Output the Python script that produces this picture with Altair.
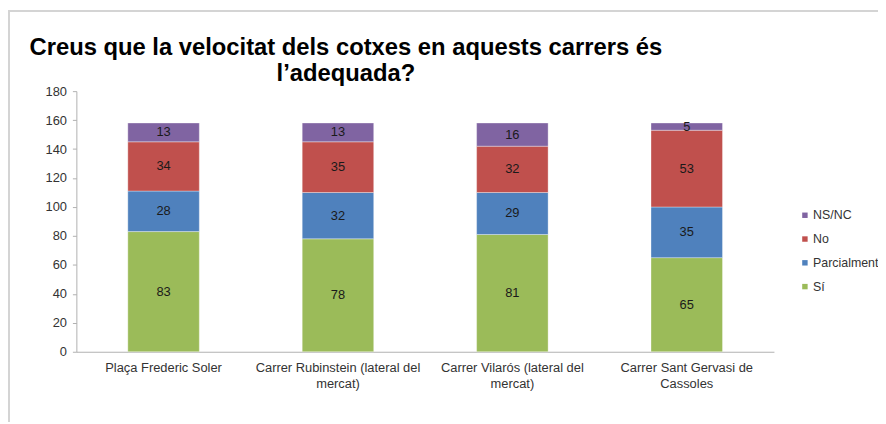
import altair as alt
import pandas as pd

# ---- data ----
categories = [
    "Plaça Frederic Soler",
    "Carrer Rubinstein (lateral del mercat)",
    "Carrer Vilarós (lateral del mercat)",
    "Carrer Sant Gervasi de Cassoles",
]
category_lines = [
    ["Plaça Frederic Soler"],
    ["Carrer Rubinstein (lateral del", "mercat)"],
    ["Carrer Vilarós (lateral del", "mercat)"],
    ["Carrer Sant Gervasi de", "Cassoles"],
]
responses = ["Sí", "Parcialment", "No", "NS/NC"]  # bottom -> top
si = [83, 78, 81, 65]
parcialment = [28, 32, 29, 35]
no = [34, 35, 32, 53]
nsnc = [13, 13, 16, 5]
colors = ["#9BBB59", "#4F81BD", "#C0504D", "#8064A2"]
y_ticks = list(range(0, 181, 20))
title_lines = ["Creus que la velocitat dels cotxes en aquests carrers és", "l\u2019adequada?"]

series = [si, parcialment, no, nsnc]
rows = []
for r, (resp, vals) in enumerate(zip(responses, series)):
    for c, v in zip(categories, vals):
        rows.append({"category": c, "response": resp, "rank": r, "value": v})
df = pd.DataFrame(rows)

# label expression for multi-line x labels
expr = "datum.label"
for cat, lines in reversed(list(zip(categories, category_lines))):
    arr = "[" + ",".join("'" + l + "'" for l in lines) + "]"
    expr = f"datum.label == '{cat}' ? {arr} : ({expr})"

FONT = "Liberation Sans, Arial, sans-serif"

base = alt.Chart(df).transform_stack(
    stack="value",
    groupby=["category"],
    as_=["y0", "y1"],
    sort=[alt.SortField("rank", order="ascending")],
).transform_calculate(mid="(datum.y0 + datum.y1) / 2")

y_scale = alt.Scale(domain=[0, 180], nice=False, zero=True)
x_scale = alt.Scale(paddingInner=0.59, paddingOuter=0.295)
x_axis = alt.Axis(labelExpr=expr, labelAngle=0, ticks=False, labelPadding=10,
                  labelLineHeight=16, labelBaseline="top")
y_axis = alt.Axis(values=y_ticks, tickCount=10, grid=False, tickSize=4,
                  labelPadding=6, labelOverlap=False)

bars = base.mark_bar(stroke="#ffffff", strokeOpacity=0.35, strokeWidth=1).encode(
    x=alt.X("category:N", sort=categories, title=None, scale=x_scale, axis=x_axis),
    y=alt.Y("y0:Q", title=None, scale=y_scale, axis=y_axis),
    y2="y1:Q",
    color=alt.Color(
        "response:N",
        scale=alt.Scale(domain=list(reversed(responses)), range=list(reversed(colors))),
        legend=alt.Legend(title=None, orient="none", legendX=729, legendY=119,
                          symbolType="square", symbolSize=30, symbolStrokeWidth=0,
                          labelFontSize=12.5, labelFont=FONT, labelColor="#333333",
                          rowPadding=11, labelOffset=2),
    ),
)

labels = base.mark_text(fontSize=13, font=FONT, color="#1a1a1a", baseline="middle").encode(
    x=alt.X("category:N", sort=categories, title=None, scale=x_scale, axis=x_axis),
    y=alt.Y("mid:Q", title=None, scale=y_scale, axis=y_axis),
    text=alt.Text("value:Q"),
)

frame_df = pd.DataFrame({"k": [0]})
top_rule = alt.Chart(frame_df).mark_rule(color="#d4d4d4", strokeWidth=2).encode(
    x=alt.value(-69), x2=alt.value(809), y=alt.value(-81)
)
left_rule = alt.Chart(frame_df).mark_rule(color="#d4d4d4", strokeWidth=2).encode(
    x=alt.value(-68), y=alt.value(-82), y2=alt.value(334)
)
title = alt.Chart(frame_df).mark_text(
    fontSize=24, font=FONT, fontWeight="bold", color="#000000",
    align="center", baseline="middle", lineHeight=26,
).encode(x=alt.value(272), y=alt.value(-43), text=alt.value(title_lines))

chart = alt.layer(bars, labels, top_rule, left_rule, title).properties(
    width=704,
    height=263,
    autosize=alt.AutoSizeParams(type="none"),
    padding={"left": 69, "top": 82, "right": 105, "bottom": 71},
).configure(background="#ffffff").configure_view(stroke=None).configure_axis(
    domainColor="#b0b0b0", tickColor="#b0b0b0", labelColor="#333333",
    labelFont=FONT, labelFontSize=13,
)

chart.save("out.html", embed_options={"renderer": "svg", "actions": False})
